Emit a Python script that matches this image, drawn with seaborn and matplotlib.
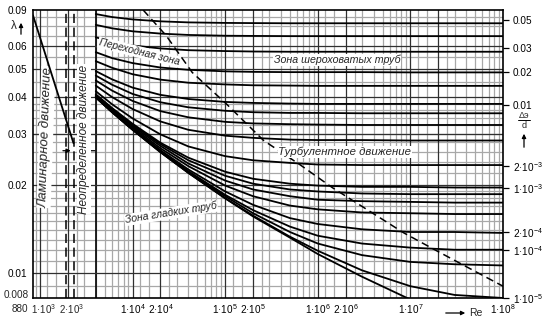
import numpy as np
import pandas as pd
import matplotlib
matplotlib.use("Agg")
import matplotlib.pyplot as plt
import seaborn as sns

# ---------------- data ----------------
re_grid = [4e3, 6e3, 1e4, 2e4, 4e4, 1e5, 2e5, 5e5, 1e6, 3e6, 1e7, 3e7, 1e8]

lam_e05000 = [0.0770, 0.0752, 0.0738, 0.0727, 0.0721, 0.0718, 0.0717, 0.0716, 0.0716, 0.0716, 0.0716, 0.0716, 0.0716]
lam_e04000 = [0.0707, 0.0688, 0.0672, 0.0660, 0.0653, 0.0649, 0.0648, 0.0647, 0.0647, 0.0647, 0.0647, 0.0647, 0.0647]
lam_e03000 = [0.0641, 0.0619, 0.0601, 0.0587, 0.0579, 0.0575, 0.0573, 0.0572, 0.0572, 0.0572, 0.0572, 0.0572, 0.0572]
lam_e02000 = [0.0570, 0.0544, 0.0523, 0.0505, 0.0496, 0.0490, 0.0488, 0.0487, 0.0487, 0.0487, 0.0486, 0.0486, 0.0486]
lam_e01500 = [0.0531, 0.0504, 0.0479, 0.0459, 0.0448, 0.0442, 0.0439, 0.0438, 0.0437, 0.0437, 0.0437, 0.0437, 0.0437]
lam_e01000 = [0.0491, 0.0460, 0.0431, 0.0407, 0.0394, 0.0385, 0.0382, 0.0380, 0.0379, 0.0379, 0.0379, 0.0379, 0.0379]
lam_e00800 = [0.0474, 0.0441, 0.0410, 0.0384, 0.0369, 0.0359, 0.0355, 0.0353, 0.0353, 0.0352, 0.0352, 0.0352, 0.0352]
lam_e00600 = [0.0456, 0.0421, 0.0388, 0.0358, 0.0341, 0.0329, 0.0325, 0.0323, 0.0322, 0.0321, 0.0321, 0.0321, 0.0321]
lam_e00400 = [0.0438, 0.0400, 0.0364, 0.0330, 0.0309, 0.0295, 0.0290, 0.0286, 0.0285, 0.0285, 0.0284, 0.0284, 0.0284]
lam_e00200 = [0.0419, 0.0378, 0.0338, 0.0298, 0.0271, 0.0251, 0.0243, 0.0238, 0.0235, 0.0234, 0.0234, 0.0234, 0.0234]
lam_e00100 = [0.0409, 0.0367, 0.0324, 0.0279, 0.0248, 0.0222, 0.0210, 0.0202, 0.0199, 0.0197, 0.0197, 0.0196, 0.0196]
lam_e00080 = [0.0407, 0.0365, 0.0321, 0.0276, 0.0243, 0.0215, 0.0202, 0.0193, 0.0190, 0.0187, 0.0186, 0.0186, 0.0186]
lam_e00060 = [0.0405, 0.0362, 0.0318, 0.0272, 0.0237, 0.0207, 0.0193, 0.0183, 0.0178, 0.0176, 0.0175, 0.0174, 0.0174]
lam_e00040 = [0.0403, 0.0360, 0.0315, 0.0267, 0.0232, 0.0199, 0.0183, 0.0170, 0.0165, 0.0161, 0.0160, 0.0159, 0.0159]
lam_e00020 = [0.0401, 0.0357, 0.0312, 0.0263, 0.0226, 0.0190, 0.0171, 0.0154, 0.0147, 0.0141, 0.0138, 0.0138, 0.0137]
lam_e00010 = [0.0400, 0.0356, 0.0310, 0.0261, 0.0223, 0.0185, 0.0164, 0.0144, 0.0134, 0.0126, 0.0122, 0.0120, 0.0120]
lam_e00005 = [0.0400, 0.0356, 0.0310, 0.0260, 0.0221, 0.0183, 0.0160, 0.0138, 0.0126, 0.0115, 0.0109, 0.0107, 0.0106]
lam_e00001 = [0.0399, 0.0355, 0.0309, 0.0259, 0.0220, 0.0180, 0.0157, 0.0133, 0.0119, 0.0102, 0.0090, 0.0084, 0.0082]
lam_smooth = [0.0399, 0.0355, 0.0309, 0.0259, 0.0220, 0.0180, 0.0156, 0.0132, 0.0116, 0.0097, 0.0081, 0.0069, 0.0059]

# laminar line
re_laminar = [840, 2300]
lam_laminar = [0.0762, 0.0278]

# dashed boundary of the rough-pipe zone
re_boundary = [1.3e4, 2.3e4, 4.4e4, 1.03e5, 2.6e5, 6.5e5, 1.43e6, 8.5e6, 1.83e7, 3.9e7, 1e8]
lam_boundary = [0.0795, 0.0650, 0.0486, 0.0379, 0.0284, 0.0234, 0.0196, 0.0137, 0.0120, 0.01055, 0.0090]

# vertical dashed lines (critical Re) and start of turbulent curves
re_critical = [1900, 2300]
re_turb_start = 4000

# axis ticks / labels
x_ticks = [1e4, 2e4, 1e5, 2e5, 1e6, 2e6, 1e7, 1e8]
x_labels = ["1·10$^{4}$", "2·10$^{4}$", "1·10$^{5}$",
            "2·10$^{5}$", "1·10$^{6}$", "2·10$^{6}$", "1·10$^{7}$", "1·10$^{8}$"]
y_ticks = [0.01, 0.02, 0.03, 0.04, 0.05, 0.06, 0.0795]
y_labels = ["0.01", "0.02", "0.03", "0.04", "0.05", "0.06", "0.09"]
r_ticks = [0.0733, 0.0588, 0.0487, 0.0375, 0.0232, 0.0195, 0.0138, 0.0120, 0.0082]
r_labels = ["0.05", "0.03", "0.02", "0.01", "2·10$^{-3}$", "1·10$^{-3}$",
            "2·10$^{-4}$", "1·10$^{-4}$", "1·10$^{-5}$"]

curves = {
    "0.05": lam_e05000, "0.04": lam_e04000, "0.03": lam_e03000, "0.02": lam_e02000,
    "0.015": lam_e01500, "0.01": lam_e01000, "0.008": lam_e00800, "0.006": lam_e00600,
    "0.004": lam_e00400, "0.002": lam_e00200, "0.001": lam_e00100, "0.0008": lam_e00080,
    "0.0006": lam_e00060, "0.0004": lam_e00040, "0.0002": lam_e00020, "0.0001": lam_e00010,
    "0.00005": lam_e00005, "0.00001": lam_e00001, "smooth": lam_smooth,
}
df = pd.concat([pd.DataFrame({"Re": re_grid, "lam": v, "curve": k}) for k, v in curves.items()],
               ignore_index=True)

# ---------------- style ----------------
sns.set_theme(style="white")
plt.rcParams["font.family"] = ["Liberation Sans", "DejaVu Sans"]
plt.rcParams["mathtext.default"] = "regular"

W, H = 550, 327
fig = plt.figure(figsize=(W / 100, H / 100), dpi=100)
L, R, T, B = 33, 503, 10, 298
ax = fig.add_axes([L / W, 1 - B / H, (R - L) / W, (B - T) / H])
ax.set_xscale("log")
ax.set_yscale("log")
XMIN, XMAX = 840, 1e8
YMIN, YMAX = 0.0082, 0.0795
ax.set_xlim(XMIN, XMAX)
ax.set_ylim(YMIN, YMAX)

def fx(x):
    return x / W

def fy(y):
    return 1 - y / H

# ---------------- grid ----------------
gray = "#a8a8a8"
dark = "#303030"
for dec in [1e2, 1e3, 1e4, 1e5, 1e6, 1e7]:
    for k in [1.2, 1.5, 2.5, 3, 4, 5, 6, 7, 8, 9]:
        v = k * dec
        if XMIN < v < XMAX:
            ax.axvline(v, color=gray, lw=0.9, zorder=1)
    for k in [1, 2]:
        v = k * dec
        if XMIN < v < XMAX:
            ax.axvline(v, color=dark, lw=0.9, zorder=1.5)
ax.axvline(re_turb_start, color="black", lw=1.2, zorder=1.5)

hgray = [0.009] + [0.011 + 0.001 * i for i in range(9)] + \
        [0.022 + 0.002 * i for i in range(9)] + [0.045, 0.055, 0.065, 0.07, 0.075]
for v in hgray:
    ax.axhline(v, color=gray, lw=0.9, zorder=1)
for v in [0.01, 0.02, 0.03, 0.04, 0.05, 0.06]:
    ax.axhline(v, color=dark, lw=0.9, zorder=1.5)

# ---------------- curves ----------------
sns.lineplot(data=df, x="Re", y="lam", units="curve", estimator=None, color="black",
             lw=1.3, ax=ax, legend=False, zorder=3)
ax.plot(re_laminar, lam_laminar, color="black", lw=1.3, zorder=6)
ax.plot(re_boundary, lam_boundary, color="black", lw=1.1, ls=(0, (5, 3)), zorder=3)
for v in re_critical:
    ax.axvline(v, color="black", lw=1.1, ls=(0, (6, 3)), zorder=2)

# small arrows around the transition region
ax.annotate("", xy=(2300, 0.0262), xytext=(1650, 0.0262),
            arrowprops=dict(arrowstyle="-|>", color="black", lw=0.9, mutation_scale=6), zorder=4)
ax.annotate("", xy=(2900, 0.0262), xytext=(4200, 0.0262),
            arrowprops=dict(arrowstyle="-|>", color="black", lw=0.9, mutation_scale=6), zorder=4)

# ---------------- axes / ticks ----------------
ax.set_xticks(x_ticks)
ax.set_xticklabels(x_labels)
ax.set_yticks(y_ticks)
ax.set_yticklabels(y_labels)
ax.minorticks_off()
ax.tick_params(axis="both", length=0, labelsize=7.2, colors="black")
ax.tick_params(axis="x", pad=3)
ax.tick_params(axis="y", pad=4)
ax.set_xlabel("")
ax.set_ylabel("")
for s in ax.spines.values():
    s.set_color("black")
    s.set_linewidth(1.2)
    s.set_visible(True)
ax.grid(False)

ax2 = ax.twinx()
ax2.set_yscale("log")
ax2.set_ylim(YMIN, YMAX)
ax2.set_yticks(r_ticks)
ax2.set_yticklabels(r_labels)
ax2.minorticks_off()
ax2.tick_params(axis="y", length=4, width=0.9, pad=3, labelsize=7.2, colors="black", direction="out")
ax2.grid(False)
for s in ax2.spines.values():
    s.set_visible(False)

# ---------------- annotations ----------------
fig.text(fx(28), fy(309), "880", ha="right", va="center", fontsize=7.2)
fig.text(fx(44), fy(309), "1·10$^{3}$", ha="center", va="center", fontsize=7.0)
fig.text(fx(72), fy(309), "2·10$^{3}$", ha="center", va="center", fontsize=7.0)
fig.text(fx(29), fy(295), "0.008", ha="right", va="center", fontsize=7.2)
fig.text(fx(14), fy(26), "λ", ha="center", va="center", fontsize=8.5)
fig.add_artist(matplotlib.patches.FancyArrowPatch((fx(21), fy(37)), (fx(21), fy(20)),
               transform=fig.transFigure, arrowstyle="-|>", mutation_scale=6, lw=0.9, color="black"))
fig.text(fx(524), fy(115), "Δэ", ha="center", va="center", fontsize=6.5)
fig.add_artist(matplotlib.lines.Line2D([fx(518), fx(530)], [fy(119.5), fy(119.5)],
               transform=fig.transFigure, color="black", lw=0.7))
fig.text(fx(524), fy(125), "d", ha="center", va="center", fontsize=6.5)
fig.add_artist(matplotlib.patches.FancyArrowPatch((fx(524), fy(150)), (fx(524), fy(131)),
               transform=fig.transFigure, arrowstyle="-|>", mutation_scale=6, lw=0.9, color="black"))
fig.add_artist(matplotlib.patches.FancyArrowPatch((fx(443), fy(313)), (fx(468), fy(313)),
               transform=fig.transFigure, arrowstyle="-|>", mutation_scale=6, lw=0.9, color="black"))
fig.text(fx(469), fy(313), "Re", ha="left", va="center", fontsize=7.5)

box = dict(fc="white", ec="none", pad=0.5)
tkw = dict(style="italic", ha="center", va="center", transform=fig.transFigure, zorder=5)
ax.text(fx(46), fy(137), "Ламинарное движение", rotation=88, fontsize=9.5, bbox=box, **tkw)
ax.text(fx(84), fy(139), "Неопределенное движение", rotation=90, fontsize=8.5, bbox=box, **tkw)
ax.text(fx(139), fy(52), "Переходная зона", rotation=-14, fontsize=7.5, bbox=box, **tkw)
ax.text(fx(337), fy(60), "Зона шероховатых труб", rotation=0, fontsize=7.7, bbox=box, **tkw)
ax.text(fx(345), fy(152), "Турбулентное движение", rotation=0, fontsize=8.2, bbox=box, **tkw)
ax.text(fx(171), fy(213), "Зона гладких труб", rotation=9, fontsize=7.5, bbox=box, **tkw)

fig.savefig("out.png", dpi=100, facecolor="white")
